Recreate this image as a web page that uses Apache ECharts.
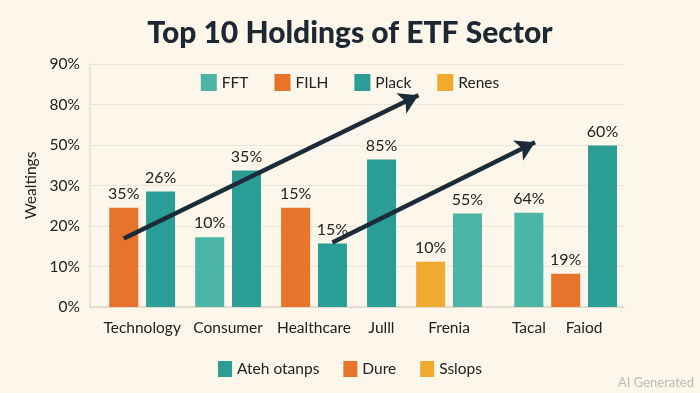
<!DOCTYPE html>
<html>
<head>
<meta charset="utf-8">
<script src="https://cdn.jsdelivr.net/npm/echarts@6/dist/echarts.min.js"></script>
<style>
  html, body { margin: 0; padding: 0; background: #fcf7ea; }
  #chart { width: 700px; height: 393px; }
</style>
</head>
<body>
<div id="chart"></div>
<script>
// ---------- DATA ----------
const categories = ['Technology', 'Consumer', 'Healthcare', 'Julll', 'Frenia', 'Tacal', 'Faiod'];
const yTickLabels = ['0%', '10%', '20%', '30%', '50%', '80%', '90%'];
const topLegend = ['FFT', 'FILH', 'Plack', 'Renes'];
const bottomLegend = ['Ateh otanps', 'Dure', 'Sslops'];
// each bar: its category, its series, its height (in y-axis steps of 10), its printed label
const barCategory = [0, 0, 1, 1, 2, 2, 3, 4, 4, 5, 6, 6];
const barSeries = ['FILH', 'Plack', 'FFT', 'Plack', 'FILH', 'Plack', 'Plack', 'Renes', 'FFT', 'FFT', 'FILH', 'Plack'];
const barValues = [24.5, 28.5, 17.2, 33.7, 24.5, 15.7, 36.4, 11.2, 23.1, 23.3, 8.2, 39.9];
const barLabels = ['35%', '26%', '10%', '35%', '15%', '15%', '85%', '10%', '55%', '64%', '19%', '60%'];
// trend arrows: [startSlot, startValue, endSlot, endValue]
const trendArrows = [
  [5, 16.9, 53, 52.3],
  [39, 15.9, 72, 40.7]
];

// ---------- LAYOUT ----------
const SLOT_COUNT = 87;
const barSlot = [5, 11, 19, 25, 33, 39, 47, 55, 61, 71, 77, 83];
const labelSlot = [8, 22, 36, 47, 58, 71, 80];
const colors = {
  'FFT': '#4bb6a6', 'FILH': '#e8732b', 'Plack': '#2a9d96', 'Renes': '#f0aa2f',
  'Ateh otanps': '#2a9d96', 'Dure': '#e8732b', 'Sslops': '#f0aa2f'
};
const FONT = 'Lato';

const slotNames = new Array(SLOT_COUNT).fill('');
labelSlot.forEach((s, i) => { slotNames[s] = categories[i]; });

const slotLabel = {};
barSlot.forEach((s, i) => { slotLabel[s] = barLabels[i]; });

const series = topLegend.map(name => {
  const d = new Array(SLOT_COUNT).fill(null);
  barSeries.forEach((sn, i) => { if (sn === name) d[barSlot[i]] = barValues[i]; });
  return {
    name: name,
    type: 'bar',
    stack: 'all',
    barWidth: 29,
    data: d,
    itemStyle: { color: colors[name] },
    label: {
      show: true,
      position: 'top',
      distance: 6,
      fontFamily: FONT,
      fontSize: 16,
      color: '#222',
      formatter: p => (p.value == null ? '' : slotLabel[p.dataIndex])
    }
  };
});

bottomLegend.forEach(name => {
  series.push({ name: name, type: 'line', data: [], itemStyle: { color: colors[name] } });
});

series.push({
  name: 'arrows',
  type: 'line',
  data: [],
  markLine: {
    silent: true,
    symbol: ['none', 'arrow'],
    symbolSize: [17, 19],
    label: { show: false },
    lineStyle: { color: '#1c2b38', width: 4.5, type: 'solid' },
    data: trendArrows.map(a => [{ coord: [a[0], a[1]] }, { coord: [a[2], a[3]] }])
  }
});

const chart = echarts.init(document.getElementById('chart'));
chart.setOption({
  backgroundColor: '#fcf7ea',
  animation: false,
  title: {
    text: 'Top 10 Holdings of ETF Sector',
    left: 'center',
    top: 13,
    textStyle: { fontFamily: FONT, fontSize: 30, fontWeight: 900, color: '#1d2833' }
  },
  legend: [
    {
      data: topLegend,
      top: 69,
      left: 'center',
      itemWidth: 16,
      itemHeight: 17,
      itemGap: 26,
      icon: 'rect',
      textStyle: { fontFamily: FONT, fontSize: 15.5, color: '#222' }
    },
    {
      data: bottomLegend,
      top: 356,
      left: 'center',
      itemWidth: 14,
      itemHeight: 16,
      itemGap: 24,
      icon: 'rect',
      textStyle: { fontFamily: FONT, fontSize: 15.5, color: '#222' }
    }
  ],
  grid: { left: 90, width: 534, top: 64, height: 243 },
  xAxis: {
    type: 'category',
    data: slotNames,
    axisTick: { show: false },
    axisLine: { lineStyle: { color: '#ddd8c8', width: 1.5 } },
    axisLabel: { interval: 0, margin: 13, fontFamily: FONT, fontSize: 15.5, color: '#222' }
  },
  yAxis: {
    type: 'value',
    min: 0,
    max: 60,
    interval: 10,
    name: 'Wealtings',
    nameLocation: 'middle',
    nameGap: 50,
    nameTextStyle: { fontFamily: FONT, fontSize: 15.5, color: '#222' },
    axisLine: { show: true, lineStyle: { color: '#e2ddcd', width: 1.5 } },
    axisTick: { show: false },
    splitLine: { lineStyle: { color: '#ebe6d8', width: 1 } },
    axisLabel: {
      margin: 10,
      fontFamily: FONT,
      fontSize: 15.5,
      color: '#222',
      formatter: v => yTickLabels[Math.round(v / 10)]
    }
  },
  graphic: [{
    type: 'text',
    right: 6,
    bottom: 4,
    style: { text: 'AI Generated', fontFamily: FONT, fontSize: 13, fill: '#bdbab2' }
  }],
  series: series
});
</script>
</body>
</html>
